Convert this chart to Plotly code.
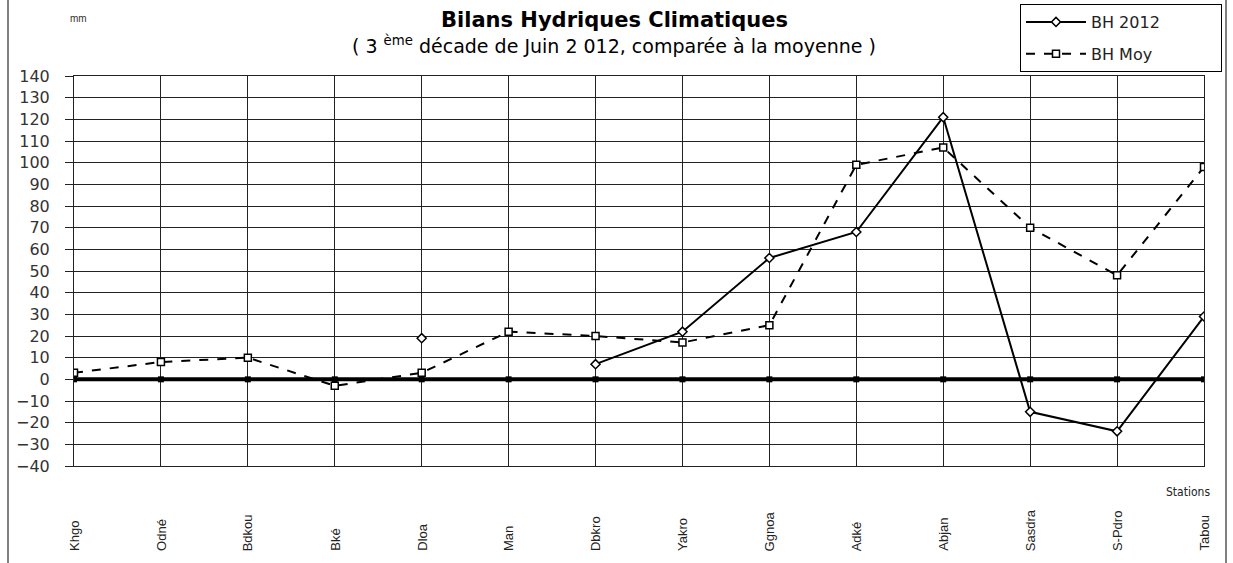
import plotly.graph_objects as go

stations = ["Khgo", "Odné", "Bdkou", "Bké", "Dloa", "Man", "Dbkro", "Yakro",
            "Ggnoa", "Adké", "Abjan", "Sasdra", "S-Pdro", "Tabou"]
bh_2012 = [None, None, None, None, 19, None, 7, 22, 56, 68, 121, -15, -24, 29]
bh_moy = [3, 8, 10, -3, 3, 22, 20, 17, 25, 99, 107, 70, 48, 98]
zero_line = [0] * len(stations)
y_ticks = list(range(-40, 141, 10))

L, R, T, B = 74, 29, 76, 97
W, H = 1233, 563
pw, ph = W - L - R, H - T - B

def px(xp):
    return (xp - L) / pw

def py(yp):
    return (H - B - yp) / ph

NB = "\u00a0"
xs = list(range(len(stations)))
fig = go.Figure()
fig.add_trace(go.Scatter(x=xs, y=zero_line, mode="lines+markers", showlegend=False,
                         legendgroup="a",
                         line=dict(color="black", width=4),
                         marker=dict(symbol="square", size=6, color="black"),
                         hoverinfo="skip"))
fig.add_trace(go.Scatter(x=xs, y=bh_2012, mode="lines+markers", name="BH 2012" + NB * 11,
                         legendgroup="a",
                         line=dict(color="black", width=2),
                         marker=dict(symbol="diamond", size=7, color="white",
                                     line=dict(color="black", width=1.5))))
fig.add_trace(go.Scatter(x=xs, y=bh_moy, mode="lines+markers", name="BH Moy",
                         legendgroup="b",
                         line=dict(color="black", width=2, dash="dash"),
                         marker=dict(symbol="square", size=7, color="white",
                                     line=dict(color="black", width=1.5))))

font_family = "Liberation Sans, Arial, sans-serif"
wide_font = "DejaVu Sans, Verdana, sans-serif"
annotations = []
for i, s in enumerate(stations):
    annotations.append(dict(x=i, xref="x", y=py(553), yref="paper", text=s,
                            textangle=-90, showarrow=False, xanchor="center",
                            yanchor="bottom", font=dict(size=13, color="#222",
                                                        family=font_family)))
annotations += [
    dict(x=px(614), y=py(20), xref="paper", yref="paper", showarrow=False,
         text="<b>Bilans Hydriques Climatiques</b>", xanchor="center", yanchor="middle",
         font=dict(size=21, color="black", family=wide_font)),
    dict(x=px(614), y=py(45), xref="paper", yref="paper", showarrow=False,
         text="( 3 <sup>ème</sup> décade de Juin 2 012, comparée à la moyenne )",
         xanchor="center", yanchor="middle",
         font=dict(size=19, color="black", family=wide_font)),
    dict(x=px(78), y=py(18), xref="paper", yref="paper", showarrow=False,
         text="mm", xanchor="center", yanchor="middle",
         font=dict(size=10, color="#333", family=font_family)),
    dict(x=px(1212), y=py(492), xref="paper", yref="paper", showarrow=False,
         text="Stations", xanchor="right", yanchor="middle",
         font=dict(size=12, color="#222", family="DejaVu Sans Condensed, sans-serif")),
]

shapes = [
    dict(type="line", xref="paper", yref="paper", x0=px(8), x1=px(8), y0=py(0), y1=py(563),
         line=dict(color="black", width=1)),
    dict(type="line", xref="paper", yref="paper", x0=px(1226), x1=px(1226), y0=py(0), y1=py(563),
         line=dict(color="black", width=1)),
]

fig.update_layout(
    width=W, height=H,
    margin=dict(l=L, r=R, t=T, b=B, autoexpand=False),
    paper_bgcolor="white", plot_bgcolor="white",
    font=dict(family=font_family, color="#333"),
    xaxis=dict(range=[0, len(stations) - 1], tickvals=xs, showticklabels=False,
               showgrid=True, gridcolor="#222", gridwidth=1, zeroline=False,
               showline=True, linecolor="#222", linewidth=1, mirror=True,
               ticks="outside", ticklen=0),
    yaxis=dict(range=[-40, 140], tickvals=y_ticks, showgrid=True, gridcolor="#222",
               gridwidth=1, zeroline=False, showline=True, linecolor="#222",
               linewidth=1, mirror=True, ticks="outside", ticklen=8, tickcolor="#222",
               ticklabelstandoff=12,
               tickfont=dict(size=16, color="#333", family=wide_font)),
    legend=dict(x=px(1020), y=py(4), xanchor="left", yanchor="top",
                bordercolor="black", borderwidth=1, bgcolor="white",
                font=dict(size=16, color="#222", family=wide_font),
                itemwidth=60, tracegroupgap=8),
    annotations=annotations, shapes=shapes,
)

fig.write_html("out.html", config={"displayModeBar": False},
               post_script="document.body.style.margin='0px';document.body.style.overflow='hidden';")
